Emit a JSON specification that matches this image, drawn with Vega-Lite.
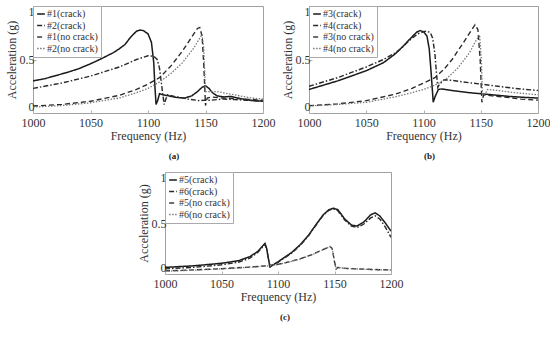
{
  "$schema": "https://vega.github.io/schema/vega-lite/v6.json",
  "padding": {"left": 4, "top": 4, "right": 0, "bottom": 2},
  "config": {
    "font": "Liberation Serif, Times New Roman, DejaVu Serif, serif",
    "view": {"stroke": "#a0a0a0", "strokeWidth": 1},
    "axis": {"domain": false, "ticks": true, "tickSize": -3, "tickColor": "#b0b0b0", "grid": false, "labelFont": "Liberation Serif", "titleFont": "Liberation Serif", "labelFontSize": 12, "titleFontSize": 12, "titleFontWeight": "normal", "labelColor": "#333", "titleColor": "#333", "labelOverlap": false},
    "axisX": {"titlePadding": 2, "labelPadding": 7, "labelFlush": false},
    "axisY": {"titlePadding": 1, "labelPadding": 2, "labelFlush": true},
    "legend": {"orient": "top-left", "offset": 0, "padding": 3, "strokeColor": "#aaaaaa", "fillColor": "white", "symbolType": "stroke", "symbolSize": 60, "symbolStrokeWidth": 1.3, "labelFont": "Liberation Serif", "labelFontSize": 10, "labelColor": "#333", "rowPadding": 1.5, "labelOffset": 1, "title": null},
    "title": {"orient": "bottom", "font": "Liberation Serif", "fontSize": 9, "fontWeight": "bold", "color": "#222", "offset": 11}
  },
  "datasets": {
    "a": [
      {"series": "#1(crack)", "freq": 1000, "acc": 0.30}, {"series": "#1(crack)", "freq": 1010, "acc": 0.32}, {"series": "#1(crack)", "freq": 1020, "acc": 0.35}, {"series": "#1(crack)", "freq": 1030, "acc": 0.38}, {"series": "#1(crack)", "freq": 1040, "acc": 0.415}, {"series": "#1(crack)", "freq": 1050, "acc": 0.46}, {"series": "#1(crack)", "freq": 1060, "acc": 0.51}, {"series": "#1(crack)", "freq": 1070, "acc": 0.565}, {"series": "#1(crack)", "freq": 1075, "acc": 0.60}, {"series": "#1(crack)", "freq": 1080, "acc": 0.64}, {"series": "#1(crack)", "freq": 1085, "acc": 0.71}, {"series": "#1(crack)", "freq": 1090, "acc": 0.765}, {"series": "#1(crack)", "freq": 1093, "acc": 0.775}, {"series": "#1(crack)", "freq": 1096, "acc": 0.77}, {"series": "#1(crack)", "freq": 1100, "acc": 0.74}, {"series": "#1(crack)", "freq": 1103, "acc": 0.66}, {"series": "#1(crack)", "freq": 1105, "acc": 0.47}, {"series": "#1(crack)", "freq": 1106, "acc": 0.25}, {"series": "#1(crack)", "freq": 1107, "acc": 0.08}, {"series": "#1(crack)", "freq": 1108.5, "acc": 0.12}, {"series": "#1(crack)", "freq": 1110, "acc": 0.18}, {"series": "#1(crack)", "freq": 1113, "acc": 0.17}, {"series": "#1(crack)", "freq": 1118, "acc": 0.16}, {"series": "#1(crack)", "freq": 1125, "acc": 0.145}, {"series": "#1(crack)", "freq": 1132, "acc": 0.14}, {"series": "#1(crack)", "freq": 1138, "acc": 0.16}, {"series": "#1(crack)", "freq": 1143, "acc": 0.20}, {"series": "#1(crack)", "freq": 1147, "acc": 0.24}, {"series": "#1(crack)", "freq": 1150, "acc": 0.255}, {"series": "#1(crack)", "freq": 1153, "acc": 0.23}, {"series": "#1(crack)", "freq": 1156, "acc": 0.19}, {"series": "#1(crack)", "freq": 1160, "acc": 0.16}, {"series": "#1(crack)", "freq": 1166, "acc": 0.15}, {"series": "#1(crack)", "freq": 1172, "acc": 0.155}, {"series": "#1(crack)", "freq": 1178, "acc": 0.14}, {"series": "#1(crack)", "freq": 1185, "acc": 0.125}, {"series": "#1(crack)", "freq": 1192, "acc": 0.115}, {"series": "#1(crack)", "freq": 1200, "acc": 0.11},
      {"series": "#2(crack)", "freq": 1000, "acc": 0.23}, {"series": "#2(crack)", "freq": 1025, "acc": 0.28}, {"series": "#2(crack)", "freq": 1050, "acc": 0.345}, {"series": "#2(crack)", "freq": 1075, "acc": 0.43}, {"series": "#2(crack)", "freq": 1090, "acc": 0.50}, {"series": "#2(crack)", "freq": 1100, "acc": 0.535}, {"series": "#2(crack)", "freq": 1105, "acc": 0.53}, {"series": "#2(crack)", "freq": 1108, "acc": 0.50}, {"series": "#2(crack)", "freq": 1110, "acc": 0.42}, {"series": "#2(crack)", "freq": 1112, "acc": 0.25}, {"series": "#2(crack)", "freq": 1114, "acc": 0.08}, {"series": "#2(crack)", "freq": 1115.5, "acc": 0.13}, {"series": "#2(crack)", "freq": 1117, "acc": 0.17}, {"series": "#2(crack)", "freq": 1125, "acc": 0.15}, {"series": "#2(crack)", "freq": 1135, "acc": 0.13}, {"series": "#2(crack)", "freq": 1145, "acc": 0.115}, {"series": "#2(crack)", "freq": 1150, "acc": 0.12}, {"series": "#2(crack)", "freq": 1155, "acc": 0.12}, {"series": "#2(crack)", "freq": 1165, "acc": 0.13}, {"series": "#2(crack)", "freq": 1175, "acc": 0.125}, {"series": "#2(crack)", "freq": 1185, "acc": 0.12}, {"series": "#2(crack)", "freq": 1200, "acc": 0.11},
      {"series": "#1(no crack)", "freq": 1000, "acc": 0.065}, {"series": "#1(no crack)", "freq": 1025, "acc": 0.08}, {"series": "#1(no crack)", "freq": 1050, "acc": 0.11}, {"series": "#1(no crack)", "freq": 1075, "acc": 0.165}, {"series": "#1(no crack)", "freq": 1090, "acc": 0.22}, {"series": "#1(no crack)", "freq": 1100, "acc": 0.27}, {"series": "#1(no crack)", "freq": 1110, "acc": 0.33}, {"series": "#1(no crack)", "freq": 1120, "acc": 0.44}, {"series": "#1(no crack)", "freq": 1130, "acc": 0.58}, {"series": "#1(no crack)", "freq": 1138, "acc": 0.71}, {"series": "#1(no crack)", "freq": 1143, "acc": 0.79}, {"series": "#1(no crack)", "freq": 1145, "acc": 0.80}, {"series": "#1(no crack)", "freq": 1147, "acc": 0.72}, {"series": "#1(no crack)", "freq": 1148.5, "acc": 0.45}, {"series": "#1(no crack)", "freq": 1150, "acc": 0.07}, {"series": "#1(no crack)", "freq": 1151.5, "acc": 0.14}, {"series": "#1(no crack)", "freq": 1155, "acc": 0.15}, {"series": "#1(no crack)", "freq": 1165, "acc": 0.14}, {"series": "#1(no crack)", "freq": 1175, "acc": 0.135}, {"series": "#1(no crack)", "freq": 1185, "acc": 0.13}, {"series": "#1(no crack)", "freq": 1200, "acc": 0.12},
      {"series": "#2(no crack)", "freq": 1000, "acc": 0.055}, {"series": "#2(no crack)", "freq": 1025, "acc": 0.07}, {"series": "#2(no crack)", "freq": 1050, "acc": 0.095}, {"series": "#2(no crack)", "freq": 1075, "acc": 0.14}, {"series": "#2(no crack)", "freq": 1090, "acc": 0.19}, {"series": "#2(no crack)", "freq": 1100, "acc": 0.23}, {"series": "#2(no crack)", "freq": 1110, "acc": 0.29}, {"series": "#2(no crack)", "freq": 1120, "acc": 0.37}, {"series": "#2(no crack)", "freq": 1130, "acc": 0.47}, {"series": "#2(no crack)", "freq": 1140, "acc": 0.61}, {"series": "#2(no crack)", "freq": 1145, "acc": 0.70}, {"series": "#2(no crack)", "freq": 1147, "acc": 0.735}, {"series": "#2(no crack)", "freq": 1148.5, "acc": 0.60}, {"series": "#2(no crack)", "freq": 1150, "acc": 0.20}, {"series": "#2(no crack)", "freq": 1152, "acc": 0.20}, {"series": "#2(no crack)", "freq": 1160, "acc": 0.20}, {"series": "#2(no crack)", "freq": 1170, "acc": 0.18}, {"series": "#2(no crack)", "freq": 1180, "acc": 0.16}, {"series": "#2(no crack)", "freq": 1190, "acc": 0.14}, {"series": "#2(no crack)", "freq": 1200, "acc": 0.13}
    ],
    "b": [
      {"series": "#3(crack)", "freq": 1000, "acc": 0.22}, {"series": "#3(crack)", "freq": 1025, "acc": 0.30}, {"series": "#3(crack)", "freq": 1050, "acc": 0.395}, {"series": "#3(crack)", "freq": 1065, "acc": 0.47}, {"series": "#3(crack)", "freq": 1075, "acc": 0.55}, {"series": "#3(crack)", "freq": 1080, "acc": 0.60}, {"series": "#3(crack)", "freq": 1088, "acc": 0.69}, {"series": "#3(crack)", "freq": 1094, "acc": 0.755}, {"series": "#3(crack)", "freq": 1097, "acc": 0.77}, {"series": "#3(crack)", "freq": 1100, "acc": 0.76}, {"series": "#3(crack)", "freq": 1103, "acc": 0.72}, {"series": "#3(crack)", "freq": 1105, "acc": 0.60}, {"series": "#3(crack)", "freq": 1106.5, "acc": 0.40}, {"series": "#3(crack)", "freq": 1108.5, "acc": 0.10}, {"series": "#3(crack)", "freq": 1110, "acc": 0.15}, {"series": "#3(crack)", "freq": 1113, "acc": 0.22}, {"series": "#3(crack)", "freq": 1116, "acc": 0.225}, {"series": "#3(crack)", "freq": 1125, "acc": 0.21}, {"series": "#3(crack)", "freq": 1140, "acc": 0.19}, {"series": "#3(crack)", "freq": 1150, "acc": 0.18}, {"series": "#3(crack)", "freq": 1160, "acc": 0.17}, {"series": "#3(crack)", "freq": 1175, "acc": 0.155}, {"series": "#3(crack)", "freq": 1190, "acc": 0.145}, {"series": "#3(crack)", "freq": 1200, "acc": 0.14},
      {"series": "#4(crack)", "freq": 1000, "acc": 0.25}, {"series": "#4(crack)", "freq": 1025, "acc": 0.33}, {"series": "#4(crack)", "freq": 1050, "acc": 0.43}, {"series": "#4(crack)", "freq": 1065, "acc": 0.50}, {"series": "#4(crack)", "freq": 1075, "acc": 0.56}, {"series": "#4(crack)", "freq": 1080, "acc": 0.60}, {"series": "#4(crack)", "freq": 1088, "acc": 0.68}, {"series": "#4(crack)", "freq": 1095, "acc": 0.74}, {"series": "#4(crack)", "freq": 1100, "acc": 0.76}, {"series": "#4(crack)", "freq": 1103, "acc": 0.765}, {"series": "#4(crack)", "freq": 1106, "acc": 0.75}, {"series": "#4(crack)", "freq": 1108, "acc": 0.70}, {"series": "#4(crack)", "freq": 1110, "acc": 0.55}, {"series": "#4(crack)", "freq": 1111.5, "acc": 0.35}, {"series": "#4(crack)", "freq": 1112.5, "acc": 0.24}, {"series": "#4(crack)", "freq": 1114, "acc": 0.27}, {"series": "#4(crack)", "freq": 1118, "acc": 0.31}, {"series": "#4(crack)", "freq": 1125, "acc": 0.305}, {"series": "#4(crack)", "freq": 1135, "acc": 0.29}, {"series": "#4(crack)", "freq": 1150, "acc": 0.27}, {"series": "#4(crack)", "freq": 1165, "acc": 0.25}, {"series": "#4(crack)", "freq": 1180, "acc": 0.23}, {"series": "#4(crack)", "freq": 1200, "acc": 0.21},
      {"series": "#3(no crack)", "freq": 1000, "acc": 0.068}, {"series": "#3(no crack)", "freq": 1025, "acc": 0.085}, {"series": "#3(no crack)", "freq": 1050, "acc": 0.115}, {"series": "#3(no crack)", "freq": 1075, "acc": 0.175}, {"series": "#3(no crack)", "freq": 1090, "acc": 0.23}, {"series": "#3(no crack)", "freq": 1100, "acc": 0.28}, {"series": "#3(no crack)", "freq": 1110, "acc": 0.33}, {"series": "#3(no crack)", "freq": 1118, "acc": 0.41}, {"series": "#3(no crack)", "freq": 1125, "acc": 0.50}, {"series": "#3(no crack)", "freq": 1135, "acc": 0.66}, {"series": "#3(no crack)", "freq": 1141, "acc": 0.76}, {"series": "#3(no crack)", "freq": 1145, "acc": 0.825}, {"series": "#3(no crack)", "freq": 1147.5, "acc": 0.78}, {"series": "#3(no crack)", "freq": 1149.5, "acc": 0.50}, {"series": "#3(no crack)", "freq": 1151, "acc": 0.10}, {"series": "#3(no crack)", "freq": 1152.5, "acc": 0.17}, {"series": "#3(no crack)", "freq": 1160, "acc": 0.16}, {"series": "#3(no crack)", "freq": 1170, "acc": 0.15}, {"series": "#3(no crack)", "freq": 1185, "acc": 0.13}, {"series": "#3(no crack)", "freq": 1200, "acc": 0.12},
      {"series": "#4(no crack)", "freq": 1000, "acc": 0.065}, {"series": "#4(no crack)", "freq": 1025, "acc": 0.08}, {"series": "#4(no crack)", "freq": 1050, "acc": 0.10}, {"series": "#4(no crack)", "freq": 1075, "acc": 0.15}, {"series": "#4(no crack)", "freq": 1090, "acc": 0.19}, {"series": "#4(no crack)", "freq": 1100, "acc": 0.22}, {"series": "#4(no crack)", "freq": 1110, "acc": 0.26}, {"series": "#4(no crack)", "freq": 1120, "acc": 0.32}, {"series": "#4(no crack)", "freq": 1130, "acc": 0.42}, {"series": "#4(no crack)", "freq": 1140, "acc": 0.56}, {"series": "#4(no crack)", "freq": 1146, "acc": 0.68}, {"series": "#4(no crack)", "freq": 1149, "acc": 0.73}, {"series": "#4(no crack)", "freq": 1150.5, "acc": 0.50}, {"series": "#4(no crack)", "freq": 1151.5, "acc": 0.17}, {"series": "#4(no crack)", "freq": 1154, "acc": 0.18}, {"series": "#4(no crack)", "freq": 1156, "acc": 0.22}, {"series": "#4(no crack)", "freq": 1165, "acc": 0.21}, {"series": "#4(no crack)", "freq": 1180, "acc": 0.19}, {"series": "#4(no crack)", "freq": 1200, "acc": 0.17}
    ],
    "c": [
      {"series": "#5(crack)", "freq": 1000, "acc": 0.065}, {"series": "#5(crack)", "freq": 1025, "acc": 0.08}, {"series": "#5(crack)", "freq": 1050, "acc": 0.105}, {"series": "#5(crack)", "freq": 1065, "acc": 0.13}, {"series": "#5(crack)", "freq": 1075, "acc": 0.17}, {"series": "#5(crack)", "freq": 1082, "acc": 0.22}, {"series": "#5(crack)", "freq": 1086, "acc": 0.27}, {"series": "#5(crack)", "freq": 1088.5, "acc": 0.30}, {"series": "#5(crack)", "freq": 1090, "acc": 0.25}, {"series": "#5(crack)", "freq": 1092, "acc": 0.12}, {"series": "#5(crack)", "freq": 1093, "acc": 0.07}, {"series": "#5(crack)", "freq": 1100, "acc": 0.12}, {"series": "#5(crack)", "freq": 1112, "acc": 0.21}, {"series": "#5(crack)", "freq": 1120, "acc": 0.29}, {"series": "#5(crack)", "freq": 1127, "acc": 0.38}, {"series": "#5(crack)", "freq": 1134, "acc": 0.49}, {"series": "#5(crack)", "freq": 1140, "acc": 0.58}, {"series": "#5(crack)", "freq": 1145, "acc": 0.63}, {"series": "#5(crack)", "freq": 1149, "acc": 0.645}, {"series": "#5(crack)", "freq": 1153, "acc": 0.63}, {"series": "#5(crack)", "freq": 1159, "acc": 0.54}, {"series": "#5(crack)", "freq": 1165, "acc": 0.48}, {"series": "#5(crack)", "freq": 1170, "acc": 0.47}, {"series": "#5(crack)", "freq": 1176, "acc": 0.51}, {"series": "#5(crack)", "freq": 1182, "acc": 0.58}, {"series": "#5(crack)", "freq": 1186, "acc": 0.60}, {"series": "#5(crack)", "freq": 1190, "acc": 0.57}, {"series": "#5(crack)", "freq": 1195, "acc": 0.50}, {"series": "#5(crack)", "freq": 1200, "acc": 0.42},
      {"series": "#6(crack)", "freq": 1000, "acc": 0.05}, {"series": "#6(crack)", "freq": 1025, "acc": 0.065}, {"series": "#6(crack)", "freq": 1050, "acc": 0.09}, {"series": "#6(crack)", "freq": 1065, "acc": 0.115}, {"series": "#6(crack)", "freq": 1075, "acc": 0.155}, {"series": "#6(crack)", "freq": 1082, "acc": 0.21}, {"series": "#6(crack)", "freq": 1086, "acc": 0.26}, {"series": "#6(crack)", "freq": 1088.5, "acc": 0.29}, {"series": "#6(crack)", "freq": 1090, "acc": 0.24}, {"series": "#6(crack)", "freq": 1092, "acc": 0.12}, {"series": "#6(crack)", "freq": 1093, "acc": 0.07}, {"series": "#6(crack)", "freq": 1100, "acc": 0.115}, {"series": "#6(crack)", "freq": 1112, "acc": 0.205}, {"series": "#6(crack)", "freq": 1120, "acc": 0.285}, {"series": "#6(crack)", "freq": 1127, "acc": 0.375}, {"series": "#6(crack)", "freq": 1134, "acc": 0.485}, {"series": "#6(crack)", "freq": 1140, "acc": 0.575}, {"series": "#6(crack)", "freq": 1145, "acc": 0.625}, {"series": "#6(crack)", "freq": 1149, "acc": 0.64}, {"series": "#6(crack)", "freq": 1153, "acc": 0.62}, {"series": "#6(crack)", "freq": 1159, "acc": 0.53}, {"series": "#6(crack)", "freq": 1165, "acc": 0.47}, {"series": "#6(crack)", "freq": 1170, "acc": 0.455}, {"series": "#6(crack)", "freq": 1176, "acc": 0.49}, {"series": "#6(crack)", "freq": 1182, "acc": 0.55}, {"series": "#6(crack)", "freq": 1186, "acc": 0.57}, {"series": "#6(crack)", "freq": 1190, "acc": 0.54}, {"series": "#6(crack)", "freq": 1195, "acc": 0.46}, {"series": "#6(crack)", "freq": 1200, "acc": 0.36},
      {"series": "#5(no crack)", "freq": 1000, "acc": 0.03}, {"series": "#5(no crack)", "freq": 1025, "acc": 0.04}, {"series": "#5(no crack)", "freq": 1050, "acc": 0.052}, {"series": "#5(no crack)", "freq": 1075, "acc": 0.068}, {"series": "#5(no crack)", "freq": 1090, "acc": 0.08}, {"series": "#5(no crack)", "freq": 1100, "acc": 0.095}, {"series": "#5(no crack)", "freq": 1110, "acc": 0.12}, {"series": "#5(no crack)", "freq": 1120, "acc": 0.15}, {"series": "#5(no crack)", "freq": 1130, "acc": 0.19}, {"series": "#5(no crack)", "freq": 1138, "acc": 0.23}, {"series": "#5(no crack)", "freq": 1144, "acc": 0.26}, {"series": "#5(no crack)", "freq": 1146, "acc": 0.27}, {"series": "#5(no crack)", "freq": 1148, "acc": 0.25}, {"series": "#5(no crack)", "freq": 1150, "acc": 0.12}, {"series": "#5(no crack)", "freq": 1151.5, "acc": 0.05}, {"series": "#5(no crack)", "freq": 1153, "acc": 0.065}, {"series": "#5(no crack)", "freq": 1160, "acc": 0.055}, {"series": "#5(no crack)", "freq": 1175, "acc": 0.048}, {"series": "#5(no crack)", "freq": 1190, "acc": 0.042}, {"series": "#5(no crack)", "freq": 1200, "acc": 0.04},
      {"series": "#6(no crack)", "freq": 1000, "acc": 0.027}, {"series": "#6(no crack)", "freq": 1025, "acc": 0.037}, {"series": "#6(no crack)", "freq": 1050, "acc": 0.05}, {"series": "#6(no crack)", "freq": 1075, "acc": 0.066}, {"series": "#6(no crack)", "freq": 1090, "acc": 0.078}, {"series": "#6(no crack)", "freq": 1100, "acc": 0.093}, {"series": "#6(no crack)", "freq": 1110, "acc": 0.118}, {"series": "#6(no crack)", "freq": 1120, "acc": 0.148}, {"series": "#6(no crack)", "freq": 1130, "acc": 0.188}, {"series": "#6(no crack)", "freq": 1138, "acc": 0.228}, {"series": "#6(no crack)", "freq": 1144, "acc": 0.258}, {"series": "#6(no crack)", "freq": 1146, "acc": 0.268}, {"series": "#6(no crack)", "freq": 1148, "acc": 0.25}, {"series": "#6(no crack)", "freq": 1150, "acc": 0.12}, {"series": "#6(no crack)", "freq": 1151.5, "acc": 0.05}, {"series": "#6(no crack)", "freq": 1153, "acc": 0.063}, {"series": "#6(no crack)", "freq": 1160, "acc": 0.054}, {"series": "#6(no crack)", "freq": 1175, "acc": 0.047}, {"series": "#6(no crack)", "freq": 1190, "acc": 0.041}, {"series": "#6(no crack)", "freq": 1200, "acc": 0.039}
    ]
  },
  "vconcat": [
    {
      "hconcat": [
        {
          "title": {"text": "(a)", "dx": 26},
          "width": 230, "height": 107,
          "data": {"name": "a"},
          "mark": {"type": "line", "clip": true},
          "encoding": {
            "x": {"field": "freq", "type": "quantitative", "scale": {"domain": [1000, 1200], "nice": false}, "axis": {"values": [1000, 1050, 1100, 1150, 1200], "format": "d", "title": "Frequency (Hz)"}},
            "y": {"field": "acc", "type": "quantitative", "scale": {"domain": [0, 1], "nice": false}, "axis": {"values": [0, 0.5, 1], "format": "~g", "title": "Acceleration (g)"}},
            "color": {"field": "series", "type": "nominal", "scale": {"domain": ["#1(crack)", "#2(crack)", "#1(no crack)", "#2(no crack)"], "range": ["#1a1a1a", "#2a2a2a", "#2a2a2a", "#7a7a7a"]}},
            "strokeDash": {"field": "series", "type": "nominal", "scale": {"domain": ["#1(crack)", "#2(crack)", "#1(no crack)", "#2(no crack)"], "range": [[1, 0], [5, 2, 1.5, 2], [5, 3], [1.5, 1.5]]}},
            "strokeWidth": {"field": "series", "type": "nominal", "scale": {"domain": ["#1(crack)", "#2(crack)", "#1(no crack)", "#2(no crack)"], "range": [1.5, 1.3, 1.3, 0.9]}}
          }
        },
        {
          "title": {"text": "(b)", "dx": 6},
          "width": 229, "height": 107,
          "data": {"name": "b"},
          "mark": {"type": "line", "clip": true},
          "encoding": {
            "x": {"field": "freq", "type": "quantitative", "scale": {"domain": [1000, 1200], "nice": false}, "axis": {"values": [1000, 1050, 1100, 1150, 1200], "format": "d", "title": "Frequency (Hz)"}},
            "y": {"field": "acc", "type": "quantitative", "scale": {"domain": [0, 1], "nice": false}, "axis": {"values": [0, 0.5, 1], "format": "~g", "title": "Acceleration (g)"}},
            "color": {"field": "series", "type": "nominal", "scale": {"domain": ["#3(crack)", "#4(crack)", "#3(no crack)", "#4(no crack)"], "range": ["#1a1a1a", "#2a2a2a", "#2a2a2a", "#7a7a7a"]}},
            "strokeDash": {"field": "series", "type": "nominal", "scale": {"domain": ["#3(crack)", "#4(crack)", "#3(no crack)", "#4(no crack)"], "range": [[1, 0], [5, 2, 1.5, 2], [5, 3], [1.5, 1.5]]}},
            "strokeWidth": {"field": "series", "type": "nominal", "scale": {"domain": ["#3(crack)", "#4(crack)", "#3(no crack)", "#4(no crack)"], "range": [1.5, 1.3, 1.3, 0.9]}}
          }
        }
      ],
      "spacing": 4,
      "resolve": {"scale": {"x": "independent", "y": "independent", "color": "independent", "strokeDash": "independent", "strokeWidth": "independent"}, "legend": {"color": "independent", "strokeDash": "independent", "strokeWidth": "independent"}}
    },
    {
      "hconcat": [
        {
          "width": 103, "height": 10,
          "view": {"stroke": null},
          "data": {"values": []},
          "mark": "point",
          "encoding": {}
        },
        {
          "title": {"text": "(c)", "dx": 7},
          "width": 226, "height": 102,
          "data": {"name": "c"},
          "mark": {"type": "line", "clip": true},
          "encoding": {
            "x": {"field": "freq", "type": "quantitative", "scale": {"domain": [1000, 1200], "nice": false}, "axis": {"values": [1000, 1050, 1100, 1150, 1200], "format": "d", "title": "Frequency (Hz)"}},
            "y": {"field": "acc", "type": "quantitative", "scale": {"domain": [0, 1], "nice": false}, "axis": {"values": [0, 0.5, 1], "format": "~g", "title": "Acceleration (g)"}},
            "color": {"field": "series", "type": "nominal", "scale": {"domain": ["#5(crack)", "#6(crack)", "#5(no crack)", "#6(no crack)"], "range": ["#1a1a1a", "#2a2a2a", "#2a2a2a", "#7a7a7a"]}},
            "strokeDash": {"field": "series", "type": "nominal", "scale": {"domain": ["#5(crack)", "#6(crack)", "#5(no crack)", "#6(no crack)"], "range": [[1, 0], [5, 2, 1.5, 2], [5, 3], [1.5, 1.5]]}},
            "strokeWidth": {"field": "series", "type": "nominal", "scale": {"domain": ["#5(crack)", "#6(crack)", "#5(no crack)", "#6(no crack)"], "range": [1.5, 1.3, 1.3, 0.9]}}
          }
        }
      ],
      "spacing": 0,
      "resolve": {"scale": {"x": "independent", "y": "independent", "color": "independent", "strokeDash": "independent", "strokeWidth": "independent"}, "legend": {"color": "independent", "strokeDash": "independent", "strokeWidth": "independent"}}
    }
  ],
  "spacing": 8,
  "resolve": {"scale": {"x": "independent", "y": "independent", "color": "independent", "strokeDash": "independent", "strokeWidth": "independent"}, "legend": {"color": "independent", "strokeDash": "independent", "strokeWidth": "independent"}}
}
